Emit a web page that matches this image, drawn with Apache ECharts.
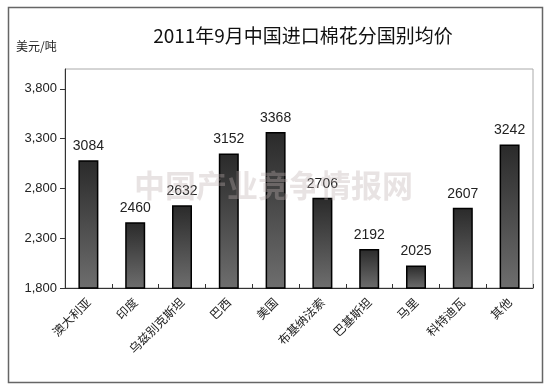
<!DOCTYPE html>
<html>
<head>
<meta charset="utf-8">
<script src="https://cdn.jsdelivr.net/npm/echarts@6/dist/echarts.min.js"></script>
<style>html,body{margin:0;padding:0;background:#fff;}#c{width:550px;height:385px;}</style>
</head>
<body>
<div id="c"></div>
<script>
var categories = ["澳大利亚","印度","乌兹别克斯坦","巴西","美国","布基纳法索","巴基斯坦","马里","科特迪瓦","其他"];
var values = [3084, 2460, 2632, 3152, 3368, 2706, 2192, 2025, 2607, 3242];
var yTicks = [1800, 2300, 2800, 3300, 3800];
var yTickLabels = ["1,800", "2,300", "2,800", "3,300", "3,800"];
var titleText = "2011年9月中国进口棉花分国别均价";
var unitText = "美元/吨";
var watermarkText = "中国产业竞争情报网";

var chart = echarts.init(document.getElementById('c'), null, {renderer: 'canvas'});
chart.setOption({
  animation: false,
  backgroundColor: '#fff',
  title: {
    text: titleText, left: 298, top: 21, textAlign: 'center',
    textStyle: {fontFamily: '"Noto Sans CJK SC", serif', fontSize: 19, fontWeight: 'normal', color: '#111'}
  },
  graphic: [
    {type: 'rect', left: 6, top: 5, shape: {width: 534, height: 375}, style: {fill: 'none', stroke: '#666', lineWidth: 1.5}, silent: true, z: 0},
    {type: 'text', left: 16, top: 40, style: {text: unitText, font: '12px "Noto Sans CJK SC"', fill: '#222'}},
    {type: 'text', left: 134, top: 170, z: 100, style: {text: watermarkText, font: 'bold 31px "Noto Sans CJK SC"', fill: 'rgba(190,175,175,0.35)'}}
  ],
  grid: {left: 65, top: 69, right: 17, bottom: 97, show: true, borderColor: '#aaa', borderWidth: 1},
  xAxis: {
    type: 'category', data: categories,
    axisLine: {lineStyle: {color: '#333', width: 1}},
    axisTick: {show: true, inside: true, length: 4, lineStyle: {color: '#333'}},
    axisLabel: {rotate: 45, interval: 0, margin: 12, fontFamily: '"Noto Sans CJK SC"', fontSize: 12, color: '#222'}
  },
  yAxis: {
    type: 'value', min: 1800, max: 4000, interval: 500,
    splitLine: {show: false},
    axisLine: {show: true, lineStyle: {color: '#333', width: 1}},
    axisTick: {show: true, length: 5, customValues: yTicks, lineStyle: {color: '#333'}},
    axisLabel: {
      margin: 8, fontFamily: 'Liberation Sans, Arial', fontSize: 13, color: '#222',
      customValues: yTicks,
      formatter: function (v) { var i = yTicks.indexOf(v); return i >= 0 ? yTickLabels[i] : ''; }
    }
  },
  series: [{
    type: 'bar', data: values, barWidth: 20,
    itemStyle: {
      borderColor: '#000', borderWidth: 1.5,
      color: new echarts.graphic.LinearGradient(0, 0, 0, 1, [
        {offset: 0, color: '#2a2a2a'}, {offset: 1, color: '#6e6e6e'}
      ])
    },
    label: {show: true, position: 'top', distance: 7, fontFamily: 'Liberation Sans, Arial', fontSize: 14, color: '#222'}
  }]
});
</script>
</body>
</html>
